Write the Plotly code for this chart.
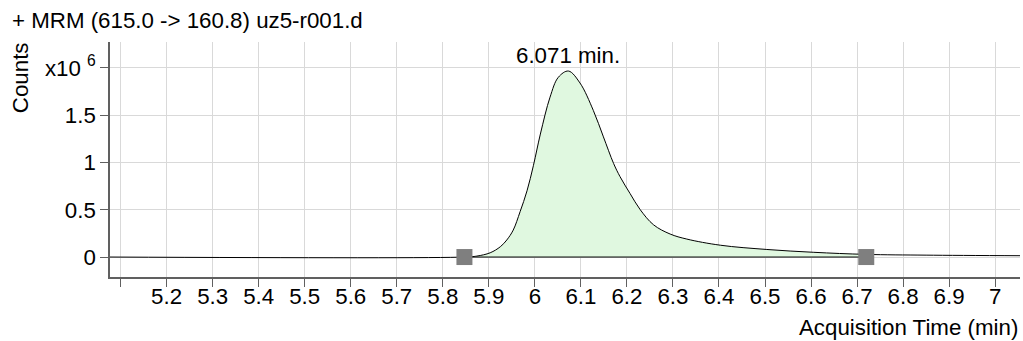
import plotly.graph_objects as go

# chromatogram (counts in units of 1e6)
rt = [5.077, 5.847, 5.874, 5.903, 5.925, 5.939, 5.953, 5.968, 5.983, 5.997,
      6.012, 6.033, 6.051, 6.073, 6.098, 6.127, 6.149, 6.171, 6.185, 6.207,
      6.229, 6.258, 6.294, 6.330, 6.403, 6.504, 6.606, 6.720, 6.850, 7.054]
counts = [0.0, 0.0, 0.010, 0.045, 0.109, 0.18, 0.285, 0.48, 0.70, 0.97,
          1.30, 1.69, 1.90, 1.966, 1.84, 1.55, 1.27, 0.99, 0.85, 0.67,
          0.50, 0.34, 0.243, 0.19, 0.125, 0.08, 0.05, 0.028, 0.020, 0.014]

peak_start = 5.847
peak_end = 6.720
peak_rt = 6.071
peak_height = 1.966

x_ticks = [5.1, 5.2, 5.3, 5.4, 5.5, 5.6, 5.7, 5.8, 5.9, 6.0, 6.1, 6.2, 6.3,
           6.4, 6.5, 6.6, 6.7, 6.8, 6.9, 7.0]
x_labels = [''] + ['5.2', '5.3', '5.4', '5.5', '5.6', '5.7', '5.8', '5.9', '6',
                   '6.1', '6.2', '6.3', '6.4', '6.5', '6.6', '6.7', '6.8', '6.9', '7']
y_ticks = [0, 0.5, 1, 1.5, 2]
y_labels = ['0', '0.5', '1', '1.5', 'x10 <sup>6</sup>']

font = 'Liberation Sans, Arial, sans-serif'
fs = 22.3

# integrated region
pk_x = [t for t in rt if peak_start <= t <= peak_end]
pk_y = [c for t, c in zip(rt, counts) if peak_start <= t <= peak_end]

fig = go.Figure()
fig.add_trace(go.Scatter(x=pk_x, y=pk_y, mode='lines', fill='tozeroy',
                         fillcolor='#e0f8e0', line=dict(width=0, shape='spline'),
                         hoverinfo='skip'))
fig.add_trace(go.Scatter(x=[peak_start, peak_end], y=[0, 0], mode='lines',
                         line=dict(color='black', width=1)))
fig.add_trace(go.Scatter(x=rt, y=counts, mode='lines',
                         line=dict(color='black', width=1, shape='spline')))
fig.add_trace(go.Scatter(x=[peak_start, peak_end], y=[0, 0], mode='markers',
                         marker=dict(symbol='square', size=16, color='#7f7f7f')))

fig.add_annotation(x=peak_rt, y=peak_height, text=f'{peak_rt:.3f} min.',
                   showarrow=False, yanchor='middle', yshift=16,
                   font=dict(size=fs, color='black', family=font))
fig.add_annotation(xref='paper', yref='paper', x=-0.099, y=0.85, text='Counts',
                   textangle=-90, showarrow=False, xanchor='center', yanchor='middle',
                   font=dict(size=fs, color='black', family=font))
fig.add_annotation(xref='paper', yref='paper', x=1.0, y=-0.213,
                   text='Acquisition Time (min)', xanchor='right', yanchor='middle',
                   showarrow=False,
                   font=dict(size=fs, color='black', family=font))

fig.update_layout(
    width=1023, height=341,
    margin=dict(l=110, r=3, t=42, b=64, autoexpand=False),
    plot_bgcolor='white', paper_bgcolor='white',
    showlegend=False,
    font=dict(family=font, size=fs, color='black'),
    title=dict(text='+ MRM (615.0 -> 160.8) uz5-r001.d', x=12 / 1023, xanchor='left',
               y=1 - 20 / 341, yanchor='middle', yref='container',
               font=dict(size=fs, color='black', family=font)),
)
fig.update_xaxes(range=[5.077, 7.054], tickvals=x_ticks, ticktext=x_labels,
                 showgrid=True, gridcolor='#d9d9d9', gridwidth=1,
                 showline=True, linecolor='#606060', linewidth=1.5,
                 ticks='outside', ticklen=8, tickcolor='#606060', zeroline=False,
                 ticklabelstandoff=-10, automargin=False)
fig.update_yaxes(range=[-0.211, 2.273], tickvals=y_ticks, ticktext=y_labels,
                 showgrid=True, gridcolor='#d9d9d9', gridwidth=1,
                 showline=True, linecolor='#606060', linewidth=1.5,
                 ticks='outside', ticklen=8, tickcolor='#606060', zeroline=False,
                 automargin=False)

fig.write_html("out.html", config={'displayModeBar': False},
               post_script="document.body.style.margin='0';")
